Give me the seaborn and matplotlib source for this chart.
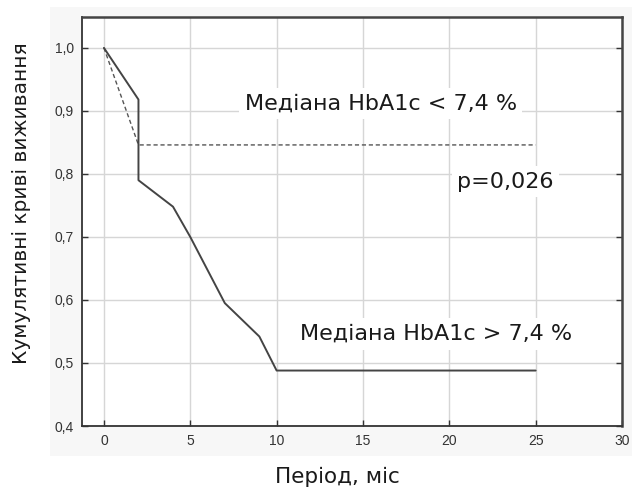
import numpy as np
import pandas as pd
import seaborn as sns
import matplotlib.pyplot as plt
from matplotlib.patches import Rectangle
from matplotlib.ticker import FuncFormatter, MultipleLocator

# Survival curves (months, cumulative survival)
month_low = [0, 2, 25]
surv_low = [1.0, 0.846, 0.846]
month_high = [0, 2, 2, 4, 5, 7, 9, 10, 25]
surv_high = [1.0, 0.918, 0.790, 0.748, 0.700, 0.595, 0.542, 0.488, 0.488]

label_low = "Медіана HbA1c < 7,4 %"
label_high = "Медіана HbA1c > 7,4 %"
p_text = "p=0,026"
x_title = "Період, міс"
y_title = "Кумулятивні криві виживання"

sns.set_theme(style="white")
plt.rcParams['font.family'] = ['DejaVu Sans']

W, H = 638, 492
fig = plt.figure(figsize=(W / 100, H / 100), dpi=100)
fig.patch.set_facecolor('white')

# light grey panel behind the plot area
fig.patches.append(Rectangle((50 / W, 1 - 456 / H), 582 / W, 449 / H,
                             transform=fig.transFigure, facecolor='#f7f7f7',
                             edgecolor='none', zorder=-1))

ax = fig.add_axes([82 / W, 1 - 426 / H, 540 / W, 409 / H])
ax.set_facecolor('white')

sns.lineplot(x=month_low, y=surv_low, sort=False, estimator=None, ax=ax,
             color='#555555', lw=1.0, linestyle=(0, (3, 2)), zorder=4)
sns.lineplot(x=month_high, y=surv_high, sort=False, estimator=None, ax=ax,
             color='#444444', lw=1.4, zorder=4)

ax.set_xlim(-1.27, 30)
ax.set_ylim(0.4, 1.049)
ax.xaxis.set_major_locator(MultipleLocator(5))
ax.yaxis.set_major_locator(MultipleLocator(0.1))
ax.yaxis.set_major_formatter(FuncFormatter(lambda v, p: f"{v:.1f}".replace('.', ',')))

ax.grid(True, color='#d6d6d6', lw=1.0, zorder=0)
ax.set_axisbelow(True)
ax.tick_params(direction='in', length=4, width=1, colors='#333333',
               labelsize=10, pad=6, right=True, left=True, bottom=True)
for lab in ax.get_xticklabels() + ax.get_yticklabels():
    lab.set_family(['Liberation Sans'])
    lab.set_color('#333333')

for side in ['left', 'bottom']:
    ax.spines[side].set_color('#333333')
    ax.spines[side].set_linewidth(1.3)
for side in ['top', 'right']:
    ax.spines[side].set_color('#444444')
    ax.spines[side].set_linewidth(1.8)

box = dict(facecolor='white', edgecolor='none', pad=4)
ax.text(8.15, 0.9016, label_low, fontsize=16, color='#1a1a1a',
        va='baseline', ha='left', bbox=box, zorder=3)
ax.text(11.33, 0.5365, label_high, fontsize=16, color='#1a1a1a',
        va='baseline', ha='left', bbox=box, zorder=3)
ax.text(20.46, 0.778, p_text, fontsize=16, color='#1a1a1a',
        va='baseline', ha='left', bbox=box, zorder=3)

ax.set_xlabel('')
ax.set_ylabel('')
fig.text(337 / W, 1 - 477 / H, x_title, fontsize=15.5, color='#1a1a1a',
         ha='center', va='center')
fig.text(22 / W, 1 - 203 / H, y_title, fontsize=14.5, color='#1a1a1a',
         ha='center', va='center', rotation=90)

fig.savefig('out.png', dpi=100)
